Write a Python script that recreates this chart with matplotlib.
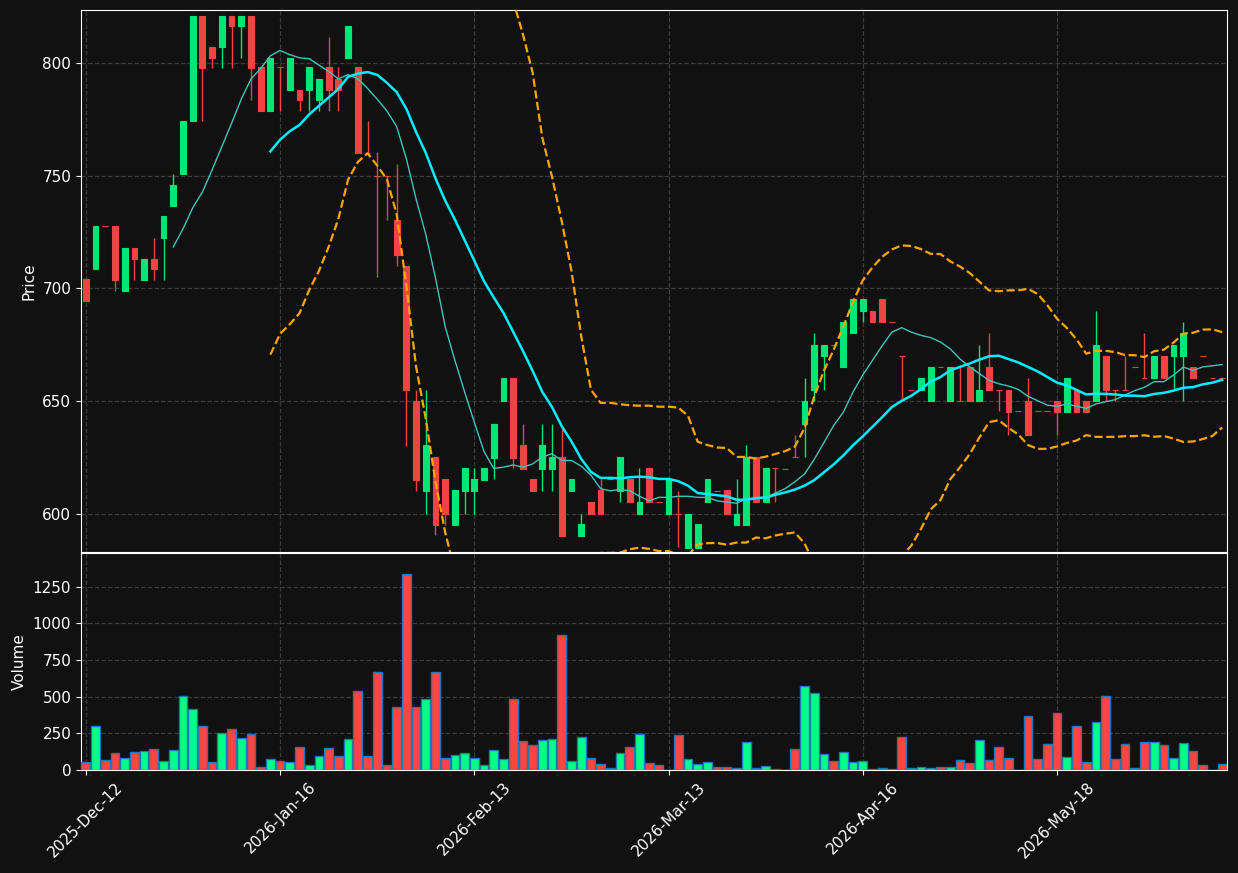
import numpy as np
import pandas as pd
import matplotlib
matplotlib.use('Agg')
import matplotlib.pyplot as plt

# tick labels every 20 bars
tick_labels = ['2025-Dec-12', '2026-Jan-16', '2026-Feb-13', '2026-Mar-13', '2026-Apr-16', '2026-May-18']

# OHLC, one value per bar
opens = [704, 708.5, 727.5, 727.5, 698.7, 718.1, 703.6, 713.2, 722.3, 736.4,
         750.7, 774.1, 821, 807.2, 807.1, 821, 816.2, 821, 798, 778.6,
         798, 787.9, 788.2, 787.9, 783.5, 798, 793.1, 802, 798, 760,
         750, 750, 730.1, 710, 650.1, 610, 625.3, 615.2, 595.1, 610,
         610, 614.8, 624.9, 649.8, 660.4, 630.3, 615.2, 619.8, 619.8, 625.3,
         610, 590.1, 605.3, 610.4, 615.5, 610, 615.2, 600, 620.1, 605.3,
         600, 600, 584.8, 584.8, 605.3, 610, 610.4, 595.1, 595.1, 625.3,
         605.3, 620.1, 620, 625.3, 640, 654.8, 670, 675, 665, 680.2,
         690.1, 690.1, 695.1, 685.1, 670, 655, 654.8, 650.1, 665.3, 650.1,
         650.1, 665.3, 650.1, 665.3, 655.1, 655.1, 645.4, 650.1, 645.4, 645.4,
         650.1, 645.1, 655.1, 650.1, 650.1, 670, 655.1, 655.1, 665, 660.3,
         660.3, 670, 670, 670, 665.3, 670, 660.3, 660.3]
highs = [704, 727.5, 727.5, 727.5, 718.1, 718.1, 713.2, 722.4, 731.9, 750.9,
         774.4, 821, 821, 807.2, 821, 821, 821, 821, 798, 802.4,
         798, 802.4, 788.2, 798, 793.1, 811.6, 798, 816.6, 798, 774.4,
         760.3, 750, 755.3, 710, 654.8, 654.8, 625.3, 615.2, 610.4, 620.1,
         620.1, 620.1, 640, 660.4, 660.4, 640, 615.2, 640, 640, 637.5,
         615.2, 600, 605.3, 615.2, 615.5, 625.3, 615.2, 620.1, 620.1, 605.3,
         615.2, 610, 600, 595.3, 615.2, 610, 610.4, 615.2, 630.3, 625.3,
         620.1, 620.1, 620, 635, 660.4, 680.2, 674.9, 675, 685.1, 695.1,
         695.1, 690.1, 695.1, 685.1, 670, 655, 660.4, 665.3, 665.3, 665.3,
         665, 665.3, 674.9, 680.2, 655.1, 655.1, 645.4, 660.4, 645.4, 645.4,
         650.1, 660.4, 655.1, 650.1, 690.1, 670, 655.1, 670, 665, 680.2,
         670, 670, 674.9, 685.1, 665.3, 670, 660.3, 660.3]
lows = [694.3, 708.5, 727.5, 698.7, 698.7, 703.6, 703.6, 703.6, 703.6, 736.4,
        750.7, 774.1, 774.1, 797.6, 797.6, 797.6, 802, 783.5, 778.6, 778.6,
        778.6, 787.9, 778.8, 778.8, 778.8, 778.8, 778.8, 802, 760, 760,
        705, 730.1, 710, 630, 610, 600, 590.4, 595.1, 595.1, 600,
        600, 614.8, 615.2, 649.8, 620.1, 619.8, 610, 610, 610, 590.1,
        610, 590.1, 600, 600, 615.5, 605.3, 605.3, 600, 605.3, 605.3,
        600, 585, 584.8, 584.8, 605.3, 610, 600, 595.1, 595.1, 605.3,
        605.3, 605.3, 620, 625.3, 625.3, 650.1, 654.8, 675, 665, 680.2,
        685.1, 685.1, 685.1, 685.1, 650.1, 655, 654.8, 650.1, 665.3, 650.1,
        650.1, 650.1, 650.1, 654.8, 645.4, 635, 645.4, 635, 645.4, 645.4,
        635, 645.1, 645.1, 645.1, 650.1, 650.1, 650.1, 655.1, 665, 660.3,
        660.3, 660.3, 655.1, 650.1, 660.3, 670, 660.3, 660.3]
closes = [694.3, 727.5, 727.5, 703.6, 718.1, 713.0, 713.2, 708.5, 731.9, 746.0,
          774.4, 821, 797.6, 802.0, 821, 816.2, 821, 797.6, 778.6, 802.4,
          798, 802.4, 783.5, 798, 793.1, 787.9, 787.9, 816.6, 760, 760,
          750, 750, 714.8, 654.8, 614.8, 630.3, 595.1, 600, 610.4, 620.1,
          615.2, 620.1, 640, 660.4, 624.9, 619.8, 610, 630.3, 625.3, 590.1,
          615.2, 595.3, 600, 600, 615.5, 625.3, 605.3, 605.3, 605.3, 605.3,
          615.2, 600, 600, 595.3, 615.2, 610, 600, 600, 625.3, 605.3,
          620.1, 620.1, 620, 625.3, 650.1, 674.9, 674.9, 675, 685.1, 695.1,
          695.1, 685.1, 685.1, 685.1, 670, 655, 660.4, 665.3, 665.3, 665.3,
          650.1, 650.1, 655.1, 654.8, 655.1, 645.1, 645.4, 635, 645.4, 645.4,
          645.1, 660.4, 645.1, 645.1, 674.9, 654.8, 655.1, 655.1, 665, 660.3,
          670, 660.3, 674.9, 680.2, 660.3, 670, 660.3, 660.3]
volumes = [52, 297, 66, 113, 79, 120, 127, 141, 59, 134,
           508, 413, 297, 52, 249, 277, 215, 245, 18, 73,
           59, 52, 154, 32, 93, 147, 93, 209, 542, 93,
           671, 32, 429, 1338, 429, 481, 671, 79, 100, 113,
           79, 32, 134, 73, 481, 195, 168, 202, 209, 923,
           59, 222, 79, 39, 11, 113, 154, 243, 45, 32,
           3, 236, 73, 39, 52, 23, 23, 11, 188, 16,
           25, 4, 3, 141, 576, 528, 107, 59, 120, 52,
           59, 5, 11, 4, 222, 11, 18, 11, 18, 18,
           66, 45, 202, 66, 154, 79, 2, 365, 73, 175,
           386, 91, 297, 52, 324, 508, 73, 175, 11, 188,
           188, 168, 79, 181, 127, 32, 2, 39]

df = pd.DataFrame({'Open': opens, 'High': highs, 'Low': lows, 'Close': closes, 'Volume': volumes})
x = np.arange(len(df))

# indicators
sma10 = df.Close.rolling(10).mean()
sma20 = df.Close.rolling(20).mean()
std20 = df.Close.rolling(20).std(ddof=0)
bb_up = sma20 + 2 * std20
bb_lo = sma20 - 2 * std20

bg = '#111111'
up_c, dn_c = '#00e676', '#ef4444'
vup_c, vdn_c = '#00ff88', '#ff4444'
is_up = df.Close > df.Open

fig = plt.figure(figsize=(12.38, 8.73), dpi=100, facecolor=bg)
ax = fig.add_axes([81 / 1238, 1 - 552 / 873, 1146 / 1238, 542 / 873])
axv = fig.add_axes([81 / 1238, 1 - 770 / 873, 1146 / 1238, 217 / 873], sharex=ax)

for a in (ax, axv):
    a.set_facecolor(bg)
    for s in a.spines.values():
        s.set_color('white')
    a.tick_params(colors='white', labelsize=11)
    a.grid(True, color='#3a3a3a', linestyle='--', linewidth=0.9)
    a.set_axisbelow(True)

# candles
cols = np.where(is_up, up_c, dn_c)
ax.vlines(x, df.Low, df.High, colors=cols, linewidth=1, zorder=2)
ax.bar(x, (df.Close - df.Open).abs(), bottom=np.minimum(df.Open, df.Close), width=0.6,
       color=cols, edgecolor=cols, linewidth=0.8, zorder=3)

ax.plot(x, sma10, color='#3fc4b8', linewidth=1, zorder=4)
ax.plot(x, sma20, color='#00eeff', linewidth=1.8, zorder=4)
ax.plot(x, bb_up, color='orange', linestyle='--', linewidth=1.6, zorder=4)
ax.plot(x, bb_lo, color='orange', linestyle='--', linewidth=1.6, zorder=4)

ax.set_ylim(583, 823.5)
ax.set_yticks([600, 650, 700, 750, 800])
ax.set_ylabel('Price', color='white', fontsize=11)
ax.tick_params(axis='x', labelbottom=False)

# volume
vcols = np.where(is_up, vup_c, vdn_c)
axv.bar(x, df.Volume, width=0.9, color=vcols, edgecolor='#1f77b4', linewidth=1, zorder=3)
axv.set_ylim(0, 1480)
axv.set_yticks([0, 250, 500, 750, 1000, 1250])
axv.set_ylabel('Volume', color='white', fontsize=11)

axv.set_xlim(-0.5, len(df) - 0.5)
axv.set_xticks(np.arange(0, len(tick_labels) * 20, 20))
axv.set_xticklabels(tick_labels, rotation=45)

fig.savefig('out.png', dpi=100, facecolor=bg)
